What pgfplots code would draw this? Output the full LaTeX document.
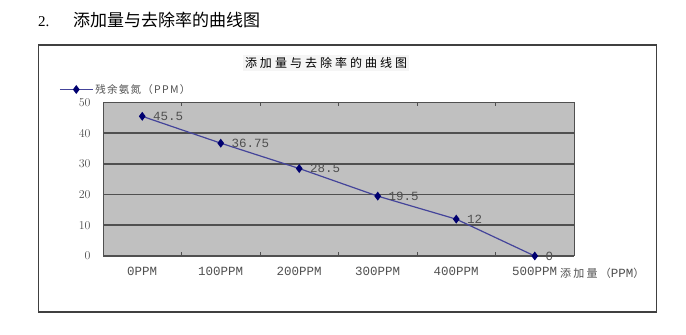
\documentclass[border=0pt]{standalone}
\usepackage{fontspec}
\usepackage{pgfplots}
\pgfplotsset{compat=1.18}
\setmainfont{Liberation Serif}
\newfontfamily\cjk{Noto Sans CJK SC}
\newfontfamily\mono{Liberation Mono}

\definecolor{plotbg}{HTML}{C0C0C0}
\definecolor{gridc}{HTML}{505050}
\definecolor{linec}{HTML}{44449A}
\definecolor{markc}{HTML}{000070}
\definecolor{labc}{HTML}{505050}

\begin{document}
\begin{tikzpicture}
  % page area and white background
  \path[use as bounding box] (0bp,0bp) rectangle (686bp,335bp);
  \fill[white] (0bp,0bp) rectangle (686bp,335bp);

  % section heading
  \node[anchor=base west, inner sep=0pt, font=\fontsize{15bp}{18bp}\selectfont] at (38bp,308bp) {2.};
  \node[anchor=base west, inner sep=0pt, font=\cjk\fontsize{17bp}{20bp}\selectfont] at (73bp,308bp) {添加量与去除率的曲线图};

  % chart frame
  \draw[line width=1.5bp, black!75] (38.5bp,23bp) rectangle (656.5bp,290bp);

  % chart title
  \node[fill=black!4, inner sep=2bp, font=\cjk\fontsize{12bp}{14bp}\selectfont\addfontfeature{LetterSpace=25}] at (326bp,272bp) {添加量与去除率的曲线图};

  \begin{axis}[
    at={(103bp,79bp)}, anchor=south west,
    scale only axis, width=471bp, height=153.5bp,
    xmin=-0.5, xmax=5.5, ymin=0, ymax=50,
    xtick={0,1,2,3,4,5},
    xticklabels={0PPM,100PPM,200PPM,300PPM,400PPM,500PPM},
    minor xtick={0.5,1.5,2.5,3.5,4.5},
    major x tick style={draw=none},
    minor tick length=4bp,
    minor x tick style={gridc, line width=1bp},
    tick align=inside,
    ytick={0,10,20,30,40,50},
    major y tick style={draw=none},
    ymajorgrids,
    major grid style={gridc, line width=1.6bp},
    axis line style={gridc, line width=1bp},
    axis background/.style={fill=plotbg},
    tick label style={font=\mono\fontsize{12.5bp}{14bp}\selectfont, text=labc},
    xticklabel style={yshift=-8bp},
    yticklabel style={xshift=-9bp},
    clip=false,
    legend style={at={(rel axis cs:0,1)}, anchor=west, xshift=-44bp, yshift=13bp,
      draw=none, fill=none, inner sep=0pt,
      font=\cjk\fontsize{10.5bp}{12bp}\selectfont\addfontfeature{LetterSpace=12}, text=labc},
    legend image code/.code={\draw[mark repeat=2, mark phase=2] plot coordinates {(0bp,0bp) (16.5bp,0bp) (33bp,0bp)};},
    legend cell align=left,
    nodes near coords,
    point meta=explicit symbolic,
    every node near coord/.append style={anchor=west, xshift=7bp, font=\mono\fontsize{12.5bp}{14bp}\selectfont, text=labc},
  ]
    \addplot[linec, line width=1.2bp, mark=diamond*, mark size=3.5bp,
      mark options={markc, fill=markc}]
      coordinates {
        (0,45.5)  [45.5]
        (1,36.75) [36.75]
        (2,28.5)  [28.5]
        (3,19.5)  [19.5]
        (4,12)    [12]
        (5,0)     [0]
      };
    \addlegendentry{残余氨氮（PPM）}
  \end{axis}

  % category axis title, set just right of the last category label
  \node[anchor=west, inner sep=0pt, text=labc] at (560bp,62bp)
    {{\cjk\fontsize{11bp}{14bp}\selectfont\addfontfeature{LetterSpace=20}添加量（}{\mono\fontsize{12.5bp}{14bp}\selectfont PPM}{\cjk\fontsize{11bp}{14bp}\selectfont ）}};
\end{tikzpicture}
\end{document}
